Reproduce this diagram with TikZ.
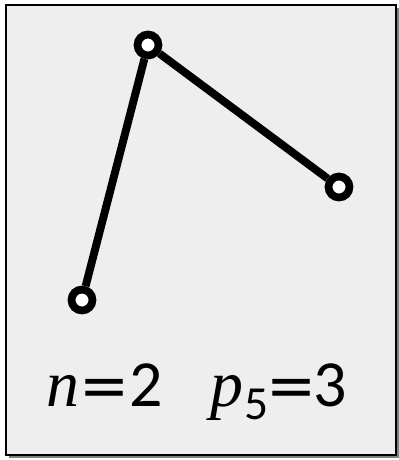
\documentclass[tikz,border=0pt]{standalone}
\usepackage{fontspec}
\setmainfont{Carlito}
\newfontfamily\itfont{Liberation Serif}
\newfontfamily\eqfont{DejaVu Sans}
\definecolor{panelgray}{RGB}{238,238,238}
\definecolor{shadowgray}{RGB}{128,128,128}
\newcommand{\bigsize}{\fontsize{37.5}{40}\selectfont}
\newcommand{\eqsign}{{\eqfont\fontsize{34}{40}\selectfont =}}
\begin{document}
\begin{tikzpicture}[
    x=0.02cm, y=-0.02cm,
    vertex/.style={circle, draw=black, fill=white, line width=4.4pt, minimum size=0.42cm, inner sep=0pt},
    edge/.style={line width=4.5pt},
    label/.style={font=\bigsize, anchor=base west, inner sep=0pt}
]
\useasboundingbox (0,0) rectangle (399,460);
% panel with shadow
\fill[shadowgray] (9,8) rectangle (399,458);
\draw[fill=panelgray, line width=0.75pt] (6,5) rectangle (396,455);
% vertices
\node[vertex] (top) at (148,45) {};
\node[vertex] (right) at (339,187) {};
\node[vertex] (left) at (82,300) {};
\draw[edge] (left) -- (top);
\draw[edge] (top) -- (right);
% counts
\node[label] (ncount) at (46,406) {{\itfont\itshape n}\eqsign\hspace{0pt}2};
\node[label] (pcount) at (210,406) {{\itfont\itshape p}\hspace{0.5pt}\raisebox{-7.4pt}{\fontsize{27}{30}\selectfont 5}\hspace{-1pt}\eqsign\hspace{-1.5pt}3};
\end{tikzpicture}
\end{document}
